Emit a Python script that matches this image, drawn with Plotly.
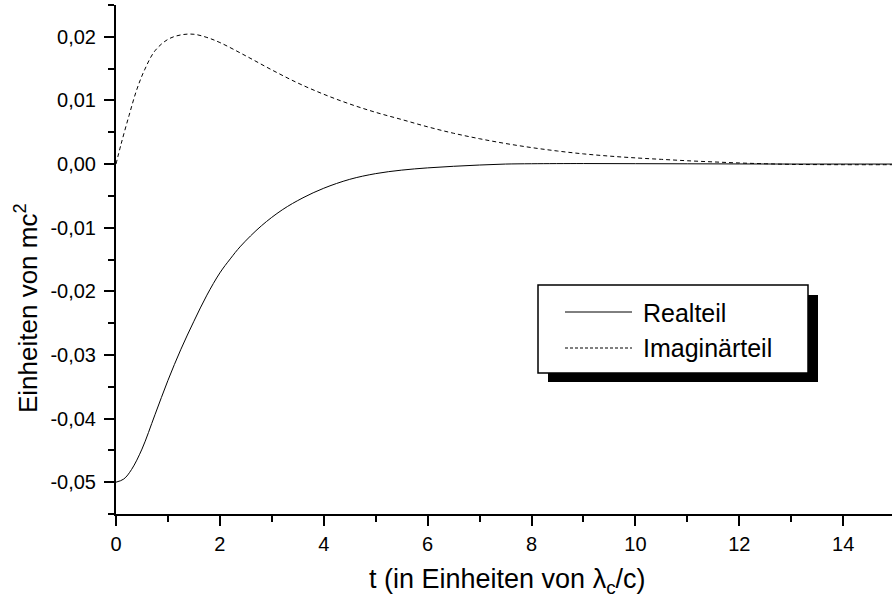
import plotly.graph_objects as go

# ---- data ----
t_real = [0, 0.15, 0.3, 0.5, 0.75, 1.0, 1.25, 1.5, 1.75, 2.0, 2.2, 2.4, 2.8, 3.2, 3.6,
          4.0, 4.5, 5.0, 5.5, 6.0, 6.5, 7.0, 7.5, 8.0, 9.0, 10, 11, 12, 13, 14, 15]
realteil = [-0.0500, -0.0495, -0.0480, -0.0448, -0.0394, -0.0340, -0.0291, -0.0247,
            -0.0206, -0.0171, -0.0149, -0.0129, -0.0097, -0.0072, -0.0053, -0.0038,
            -0.0024, -0.0015, -0.00095, -0.0006, -0.00035, -0.00015, 0.0, 0.00005,
            0.00008, 0.00006, 0.00004, 0.00002, 0.0, 0.0, 0.0]

t_imag = [0, 0.1, 0.25, 0.4, 0.55, 0.75, 1.0, 1.25, 1.5, 1.75, 2.0, 2.5, 3.0, 3.5,
          4.0, 4.5, 5.0, 5.5, 6.0, 6.5, 7.0, 7.5, 8.0, 8.5, 9.0, 9.5, 10, 10.5,
          11, 11.5, 12, 12.5, 13, 14, 15]
imaginaerteil = [0.0, 0.0032, 0.0076, 0.0117, 0.0148, 0.0178, 0.0196, 0.0203, 0.0204,
                 0.0199, 0.0191, 0.0170, 0.0148, 0.01274, 0.01097, 0.00944, 0.00813,
                 0.00700, 0.00585, 0.00484, 0.00398, 0.00323, 0.00259, 0.00205,
                 0.00160, 0.00125, 0.00097, 0.00074, 0.00052, 0.00034, 0.00017,
                 0.00005, -0.00005, -0.0001, -0.0001]

series_names = ["Realteil", "Imaginärteil"]
x_tick_vals = [0, 2, 4, 6, 8, 10, 12, 14]
x_tick_labels = ["0", "2", "4", "6", "8", "10", "12", "14"]
y_tick_vals = [-0.05, -0.04, -0.03, -0.02, -0.01, 0.0, 0.01, 0.02]
y_tick_labels = ["-0,05", "-0,04", "-0,03", "-0,02", "-0,01", "0,00", "0,01", "0,02"]
x_title = "t (in Einheiten von λ<sub>c</sub>/c)"
y_title = "Einheiten von mc<sup>2</sup>"

# ---- layout geometry (pixels) ----
W, H = 892, 601
L, R, T, B = 116, 0, 5, 87
PW, PH = W - L - R, H - T - B

def px(x):
    return (x - L) / PW

def py(y):
    return (H - B - y) / PH

FONT = "Liberation Sans, Arial, sans-serif"

fig = go.Figure()
fig.add_trace(go.Scatter(x=t_real, y=realteil, mode="lines", name=series_names[0],
                         line=dict(color="black", width=1, shape="spline", smoothing=1),
                         showlegend=False))
fig.add_trace(go.Scatter(x=t_imag, y=imaginaerteil, mode="lines", name=series_names[1],
                         line=dict(color="black", width=1, dash="4px,3px", shape="spline",
                                   smoothing=1),
                         showlegend=False))

axis_common = dict(showline=True, linecolor="black", linewidth=2, ticks="outside",
                   ticklen=10, tickwidth=2, tickcolor="black", showgrid=False,
                   zeroline=False, tickfont=dict(family=FONT, size=20, color="black"))

fig.update_xaxes(range=[0, 14.94], tickmode="array", tickvals=x_tick_vals,
                 ticktext=x_tick_labels, ticklabelstandoff=1,
                 minor=dict(ticks="outside", ticklen=6, tickwidth=2, tickcolor="black",
                            dtick=1, tick0=0, showgrid=False),
                 **axis_common)
fig.update_yaxes(range=[-0.055, 0.025], tickmode="array", tickvals=y_tick_vals,
                 ticktext=y_tick_labels, ticklabelstandoff=4,
                 minor=dict(ticks="outside", ticklen=6, tickwidth=2, tickcolor="black",
                            dtick=0.005, tick0=0, showgrid=False),
                 **axis_common)

shapes = [
    # legend shadow
    dict(type="rect", xref="paper", yref="paper", x0=px(548), x1=px(818),
         y0=py(382), y1=py(295), fillcolor="black", line=dict(width=0), layer="above"),
    # legend box
    dict(type="rect", xref="paper", yref="paper", x0=px(538), x1=px(808),
         y0=py(373), y1=py(285), fillcolor="white",
         line=dict(color="black", width=1.5), layer="above"),
    # legend samples
    dict(type="line", xref="paper", yref="paper", x0=px(565), x1=px(632),
         y0=py(312), y1=py(312), line=dict(color="black", width=1), layer="above"),
    dict(type="line", xref="paper", yref="paper", x0=px(565), x1=px(632),
         y0=py(348), y1=py(348), line=dict(color="black", width=1, dash="3px,2px"),
         layer="above"),
]

annotations = [
    dict(text=series_names[0], xref="paper", yref="paper", x=px(641), y=py(313),
         xanchor="left", yanchor="middle", showarrow=False,
         font=dict(family=FONT, size=25, color="black")),
    dict(text=series_names[1], xref="paper", yref="paper", x=px(641), y=py(348),
         xanchor="left", yanchor="middle", showarrow=False,
         font=dict(family=FONT, size=25, color="black")),
    dict(text=x_title, xref="paper", yref="paper", x=px(507), y=py(581),
         xanchor="center", yanchor="middle", showarrow=False,
         font=dict(family=FONT, size=27, color="black")),
    dict(text=y_title, xref="paper", yref="paper", x=px(26), y=py(308),
         xanchor="center", yanchor="middle", showarrow=False, textangle=-90,
         font=dict(family=FONT, size=26, color="black")),
]

fig.update_layout(width=W, height=H, margin=dict(l=L, r=R, t=T, b=B),
                  paper_bgcolor="white", plot_bgcolor="white",
                  shapes=shapes, annotations=annotations, showlegend=False)

fig.write_html("out.html")
